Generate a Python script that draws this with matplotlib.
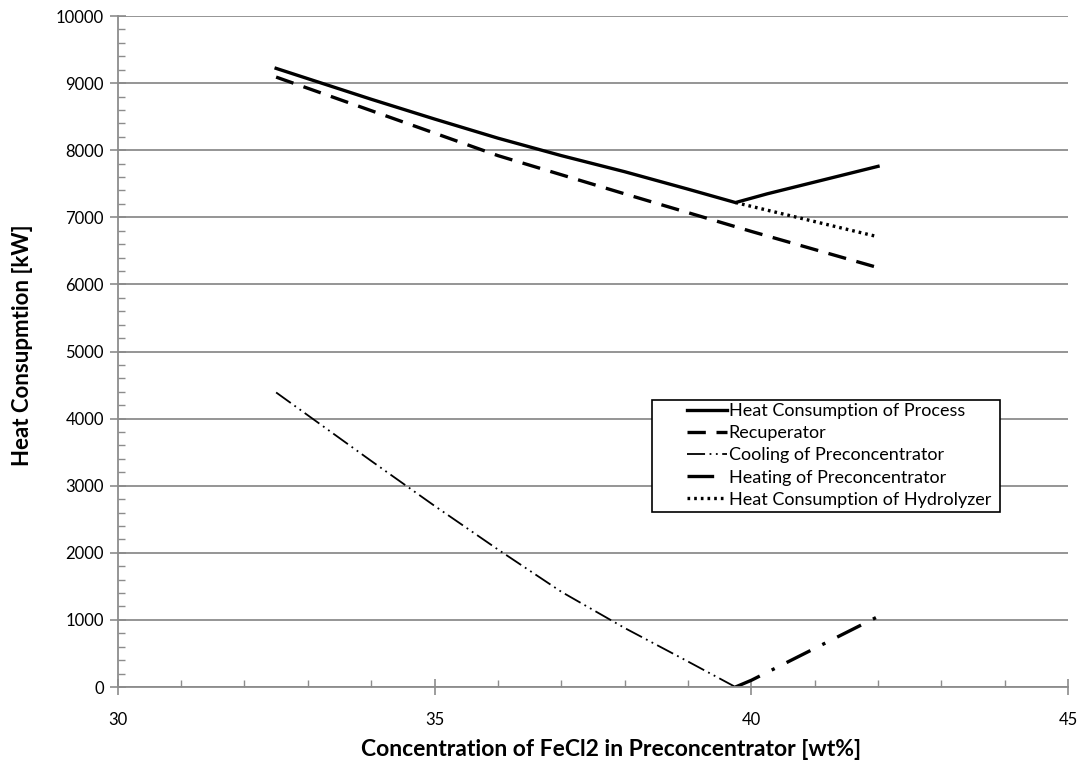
import matplotlib.pyplot as plt
from matplotlib.patches import Rectangle
from matplotlib.ticker import MultipleLocator

# data
conc_process = [32.5, 34, 35, 36, 37, 38, 39, 39.75, 40.25, 42]
heat_process = [9220, 8760, 8465, 8180, 7920, 7680, 7420, 7220, 7350, 7760]

conc_recup = [32.5, 34, 36, 38, 40, 42]
heat_recup = [9090, 8590, 7920, 7350, 6790, 6250]

conc_cooling = [32.5, 34, 35, 36, 37, 38, 39, 39.75]
heat_cooling = [4390, 3370, 2700, 2050, 1420, 880, 380, 0]

conc_heating = [39.75, 40, 42]
heat_heating = [0, 100, 1050]

conc_hydro = [39.75, 42]
heat_hydro = [7220, 6710]

plt.rcParams['font.family'] = ['Lato', 'DejaVu Sans']

fig = plt.figure(figsize=(10.8, 7.67), dpi=100)
ax = fig.add_axes([0.109, 0.1043, 0.880, 0.8748])

ax.plot(conc_process, heat_process, color='black', lw=2.4, ls='-',
        label='Heat Consumption of Process')
ax.plot(conc_recup, heat_recup, color='black', lw=2.4, ls=(0, (5.5, 3.2)),
        label='Recuperator')
ax.plot(conc_cooling, heat_cooling, color='black', lw=1.3,
        ls=(0, (10, 2.5, 1, 2.5, 1, 2.5)), label='Cooling of Preconcentrator')
ax.plot(conc_heating, heat_heating, color='black', lw=2.4,
        ls=(0, (8, 4, 1, 4)), label='Heating of Preconcentrator')
ax.plot(conc_hydro, heat_hydro, color='black', lw=2.4, ls=(0, (0.8, 1.2)),
        label='Heat Consumption of Hydrolyzer')

ax.set_xlim(30, 45)
ax.set_ylim(0, 10000)
ax.xaxis.set_major_locator(MultipleLocator(5))
ax.xaxis.set_minor_locator(MultipleLocator(1))
ax.yaxis.set_major_locator(MultipleLocator(1000))
ax.yaxis.set_minor_locator(MultipleLocator(200))

ax.grid(axis='y', which='major', color='#8c8c8c', lw=1.3)
ax.set_axisbelow(True)
for s in ['top', 'right']:
    ax.spines[s].set_visible(False)
for s in ['left', 'bottom']:
    ax.spines[s].set_color('#8c8c8c')
    ax.spines[s].set_linewidth(1.3)

ax.tick_params(which='major', direction='inout', length=12, width=1.2,
               color='#8c8c8c', labelsize=12, pad=4)
ax.tick_params(which='minor', direction='in', length=5, width=1,
               color='#8c8c8c')
ax.tick_params(axis='x', which='major', pad=12)

ax.set_xlabel('Concentration of FeCl2 in Preconcentrator [wt%]',
              fontsize=16.5, fontweight='bold')
ax.xaxis.set_label_coords(0.519, -0.078)
ax.set_ylabel('Heat Consupmtion [kW]', fontsize=16, fontweight='bold')
ax.yaxis.set_label_coords(-0.089, 0.51)

# Excel-style legend: square black box with wide left margin
ax.add_patch(Rectangle((0.562, 0.261), 0.366, 0.167, transform=ax.transAxes,
                       facecolor='white', edgecolor='black', lw=1.2,
                       zorder=4))
leg = ax.legend(loc='upper left', bbox_to_anchor=(0.599, 0.423),
                fontsize=13, frameon=False, handlelength=2.2,
                handletextpad=0.1, labelspacing=0.34, borderpad=0,
                borderaxespad=0)
leg.set_zorder(5)

plt.savefig('out.png', dpi=100)
